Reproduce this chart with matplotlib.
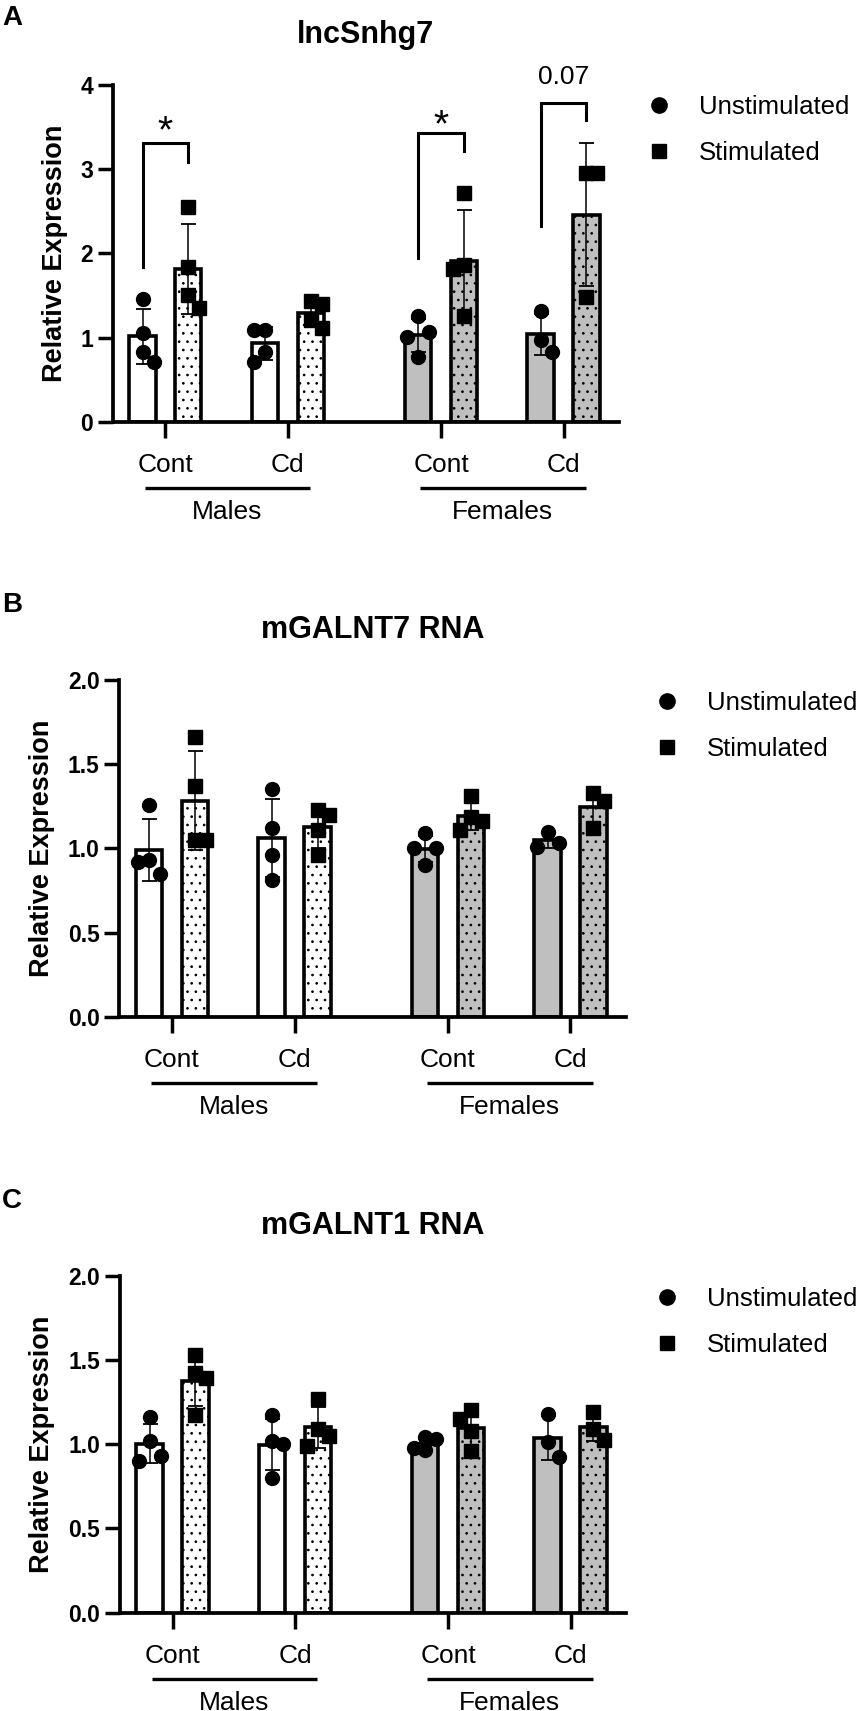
import matplotlib

matplotlib.use("Agg")
import matplotlib.pyplot as plt
import matplotlib.transforms as mtransforms
import numpy as np
from matplotlib.lines import Line2D
from matplotlib.ticker import FormatStrFormatter

plt.rcParams["font.family"] = ["Liberation Sans", "DejaVu Sans"]
plt.rcParams["hatch.linewidth"] = 0.7

W, H, DPI = 858, 1711, 100
PT = 72 / DPI  # points per pixel

# ── data ────────────────────────────────────────────────────────────────────
group_labels = ["Cont", "Cd", "Cont", "Cd"]
sex_labels = ["Males", "Females"]
group_x = [0.0, 1.0, 2.25, 3.25]

titles = ["lncSnhg7", "mGALNT7 RNA", "mGALNT1 RNA"]
panel_letters = ["A", "B", "C"]

# individual replicates, order: Males Cont, Males Cd, Females Cont, Females Cd
a_unstim = [[1.46, 1.05, 0.83, 0.71], [1.09, 1.09, 0.83, 0.71],
            [1.25, 1.07, 1.01, 0.77], [1.31, 0.97, 0.83]]
a_stim = [[2.55, 1.84, 1.50, 1.35], [1.43, 1.40, 1.21, 1.11],
          [2.72, 1.86, 1.82, 1.26], [2.95, 2.95, 1.48]]

b_unstim = [[1.26, 0.93, 0.92, 0.85], [1.35, 1.12, 0.96, 0.81],
            [1.09, 1.00, 1.00, 0.90], [1.10, 1.03, 1.01]]
b_stim = [[1.66, 1.37, 1.05, 1.05], [1.23, 1.20, 1.11, 0.96],
          [1.31, 1.185, 1.16, 1.11], [1.33, 1.28, 1.12]]

c_unstim = [[1.16, 1.02, 0.93, 0.90], [1.17, 1.02, 1.00, 0.80],
            [1.04, 1.03, 0.975, 0.965], [1.18, 1.01, 0.925]]
c_stim = [[1.53, 1.42, 1.39, 1.17], [1.27, 1.09, 1.05, 0.99],
          [1.20, 1.15, 1.08, 0.96], [1.19, 1.09, 1.025]]

y_max = [4, 2.0, 2.0]
y_step = [1, 0.5, 0.5]
y_fmt = ["%d", "%.1f", "%.1f"]

# significance brackets (panel A only)
sig_group = [0, 2, 3]
sig_top = [3.31, 3.43, 3.79]
sig_left_end = [1.84, 1.94, 2.32]
sig_right_end = [3.09, 3.21, 3.58]
sig_text = ["*", "*", "0.07"]
sig_text_y = [3.58, 3.66, 4.10]

# ── layout (pixels) ─────────────────────────────────────────────────────────
# left, right, top (y max), bottom (y = 0)
axes_px = [(112.5, 619, 85, 421.7), (119, 626, 680, 1016.7), (119.6, 626, 1275.7, 1612.5)]
ylabel_x = [55, 42, 42]
legend_xy = [(646, 95), (654.5, 690.5), (654.5, 1286.5)]

XLIM = (-0.432, 3.703)
OFF = 0.187  # bar offset from group centre
BAR_W = 0.215
MALE_FILL = "white"
FEMALE_FILL = "#bfbfbf"


def swarm(ax, xc, values, step_px=11, min_px=16):
    """Spread overlapping points sideways within the bar (pixel-space check)."""
    px_x = ax.transData.transform((1, 0))[0] - ax.transData.transform((0, 0))[0]
    step = step_px / px_x
    placed, xs = [], []
    for v in values:
        best, best_d = None, -1
        for k in (0, 1, -1):
            x = xc + k * step
            p = ax.transData.transform((x, v))
            d = min((np.hypot(*(p - q)) for q in placed), default=1e9)
            if d >= min_px:
                best = (x, p)
                break
            if d > best_d:
                best, best_d = (x, p), d
        xs.append(best[0])
        placed.append(best[1])
    return xs


def draw_panel(fig, idx, unstim, stim):
    left, right, top, bottom = axes_px[idx]
    ax = fig.add_axes([left / W, 1 - bottom / H, (right - left) / W, (bottom - top) / H])
    ax.set_xlim(*XLIM)
    ax.set_ylim(0, y_max[idx])

    for s in ("top", "right"):
        ax.spines[s].set_visible(False)
    for s in ("left", "bottom"):
        ax.spines[s].set_linewidth(2.7)

    ax.set_yticks(np.arange(0, y_max[idx] + 1e-9, y_step[idx]))
    ax.yaxis.set_major_formatter(FormatStrFormatter(y_fmt[idx]))
    ax.tick_params(axis="y", length=11, width=2.5, pad=3, labelsize=16.5)
    for lab in ax.get_yticklabels():
        lab.set_fontweight("bold")
    ax.set_xticks(group_x, group_labels)
    ax.tick_params(axis="x", length=11.5, width=2.5, pad=11, labelsize=19)

    for g, xc in enumerate(group_x):
        fill = MALE_FILL if g < 2 else FEMALE_FILL
        for vals, dx, hatch, marker, ms in (
            (unstim[g], -OFF, None, "o", 10),
            (stim[g], OFF, "..", "s", 9.5),
        ):
            vals = np.asarray(vals)
            mean, sd = vals.mean(), vals.std(ddof=1)
            ax.bar(xc + dx, mean, width=BAR_W, color=fill, edgecolor="black",
                   linewidth=2.6, hatch=hatch, zorder=2)
            xs = swarm(ax, xc + dx, vals)
            ax.plot(xs, vals, ls="none", marker=marker, ms=ms, color="black", zorder=3,
                    clip_on=False)
            ax.errorbar(xc + dx, mean, yerr=sd, fmt="none", ecolor="black",
                        elinewidth=1.1, capsize=5.4, capthick=1.3, zorder=4, clip_on=False)

    # sex group underline + label
    xax = ax.get_xaxis_transform()
    line_tr = mtransforms.offset_copy(xax, fig=fig, y=-66.5 * PT, units="points")
    text_tr = mtransforms.offset_copy(xax, fig=fig, y=-97 * PT, units="points")
    for k, sex in enumerate(sex_labels):
        x0, x1 = group_x[2 * k] - 0.17, group_x[2 * k + 1] + 0.18
        ax.plot([x0, x1], [0, 0], color="black", lw=2.4, transform=line_tr,
                clip_on=False, solid_capstyle="butt")
        ax.text((x0 + x1) / 2, 0, sex, transform=text_tr, ha="center", va="baseline",
                fontsize=19)

    # titles / labels
    cx = (left + right) / 2
    fig.text(cx / W, 1 - (top - 42) / H, titles[idx], ha="center", va="baseline",
             fontsize=22, fontweight="bold")
    fig.text(2 / W, 1 - (top - 60 if idx == 0 else top - 68) / H, panel_letters[idx],
             ha="left", va="baseline", fontsize=20, fontweight="bold")
    fig.text(ylabel_x[idx] / W, 1 - (top + bottom) / 2 / H, "Relative Expression",
             rotation=90, ha="center", va="center", fontsize=19.5, fontweight="bold")

    handles = [
        Line2D([], [], ls="none", marker="o", ms=11, color="black", label="Unstimulated"),
        Line2D([], [], ls="none", marker="s", ms=9.5, color="black", label="Stimulated"),
    ]
    lx, ly = legend_xy[idx]
    ax.legend(handles=handles, loc="upper left", bbox_to_anchor=(lx / W, 1 - ly / H),
              bbox_transform=fig.transFigure, frameon=False, fontsize=18.5,
              handlelength=1.0, handletextpad=1.05, labelspacing=0.86,
              borderpad=0, borderaxespad=0)
    return ax


fig = plt.figure(figsize=(W / DPI, H / DPI), dpi=DPI)
fig.patch.set_facecolor("white")

ax_a = draw_panel(fig, 0, a_unstim, a_stim)
draw_panel(fig, 1, b_unstim, b_stim)
draw_panel(fig, 2, c_unstim, c_stim)

# significance brackets on panel A
star_tr = mtransforms.offset_copy(ax_a.transData, fig=fig, y=-16, units="points")
for g, top, yl, yr, txt, ty in zip(sig_group, sig_top, sig_left_end, sig_right_end,
                                   sig_text, sig_text_y):
    x0, x1 = group_x[g] - OFF, group_x[g] + OFF
    ax_a.plot([x0, x0, x1, x1], [yl, top, top, yr], color="black", lw=2.2,
              clip_on=False, solid_joinstyle="miter", zorder=5)
    if txt == "*":
        ax_a.text((x0 + x1) / 2, ty, txt, transform=star_tr, ha="center",
                  va="baseline", fontsize=28)
    else:
        ax_a.text((x0 + x1) / 2, ty, txt, ha="center", va="center", fontsize=19)

fig.savefig("out.png", dpi=DPI, facecolor="white")
